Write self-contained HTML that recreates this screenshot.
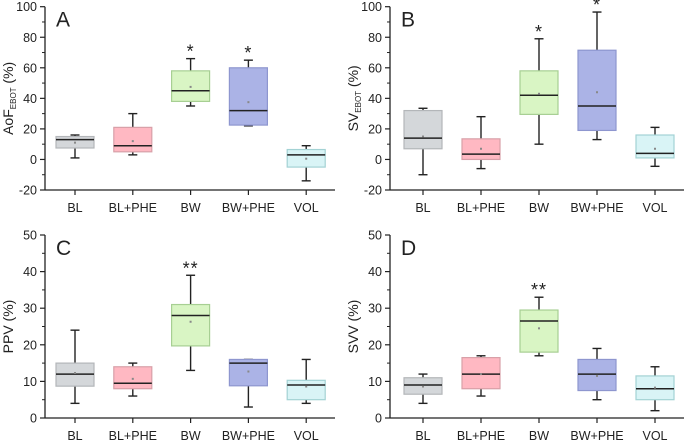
<!DOCTYPE html>
<html><head><meta charset="utf-8"><style>
body{margin:0;background:#fff}
svg text{font-family:"Liberation Sans",Arial,sans-serif;fill:#222}
</style></head><body>
<svg id="c" width="685" height="440" xmlns="http://www.w3.org/2000/svg"></svg>
<script>
const categories=["BL","BL+PHE","BW","BW+PHE","VOL"];
const fills=["#d4d7da","#ffb8c2","#d9f5c4","#abb3e6","#d9f4f6"];
const strokes=["#b3b6b9","#d8a0a8","#a7cf93","#8e96cf","#a3d2d4"];
// [whiskerLow, q1, median, q3, whiskerHigh, mean]
const statsA=[[1,7.5,13,15,16,11],[3,5,9,21,30,12],[35,38,45,58,66,47.5],[22,22.5,32,60,65,37.5],[-14,-5,3,6.5,9,0.5]];
const statsB=[[-10,7,14,32,33.5,15],[-6,0,3.5,13.5,28,7],[10,29.5,42,58,79,43],[13,19,35,71.5,96.5,44],[-4.5,1,4,16,21,7]];
const statsC=[[4,8.7,12,15,24,12.3],[6,8,9.5,14,15,10.7],[13,19.7,28,31,39,26.3],[3,8.8,15,16,16,12.7],[4,5,9,10.3,16,8.6]];
const statsD=[[4,6.5,9,11,12,8.6],[6,8,12,16.5,17,12],[17,18,26.5,29.5,33,24.5],[5,7.5,12,16,19,11.5],[2,5,8,11.5,14,8.3]];
const starsA=["","","*","*",""],starsB=["","","*","*",""],starsC=["","","**","",""],starsD=["","","**","",""];
const ticksAB=[-20,0,20,40,60,80,100],ticksCD=[0,10,20,30,40,50];

const svg=document.getElementById('c');
const NS="http://www.w3.org/2000/svg";
function mk(tag,attrs,parent,txt){const e=document.createElementNS(NS,tag);for(const k in attrs)e.setAttribute(k,attrs[k]);if(txt!==undefined)e.textContent=txt;(parent||svg).appendChild(e);return e;}

function panel(p){
  const g=mk('g',{});
  
  
  const ymin=p.ticks[0],ymax=p.ticks[p.ticks.length-1];
  const y=v=>p.yBot-(v-ymin)/(ymax-ymin)*(p.yBot-p.yTop);
  const x=i=>p.x0+p.dx*i;
  const ya=mk('line',{x1:p.ax,y1:p.yTop,x2:p.ax,y2:p.yBot,stroke:'#222','stroke-width':1.3},g);
  
  const xa=mk('line',{x1:p.ax,y1:p.yBot,x2:p.xEnd,y2:p.yBot,stroke:'#222','stroke-width':1.3},g);
  
  p.ticks.forEach((t,k)=>{
    mk('line',{x1:p.ax-5,y1:y(t),x2:p.ax,y2:y(t),stroke:'#222','stroke-width':1.2},g);
    if(k<p.ticks.length-1){const m=(t+p.ticks[k+1])/2;mk('line',{x1:p.ax-3,y1:y(m),x2:p.ax,y2:y(m),stroke:'#222','stroke-width':1},g);}
    const tl=mk('text',{x:p.ax-8,y:y(t)+4.5,'text-anchor':'end','font-size':12.5},g,String(t));
    
  });
  const tt=mk('text',{transform:`translate(${p.ax-32},${(p.yTop+p.yBot)/2}) rotate(-90)`,'text-anchor':'middle','font-size':14},g);
  
  tt.textContent=p.title;
  if(p.sub){mk('tspan',{'font-size':8,dy:3},tt,p.sub);mk('tspan',{dy:-3},tt,' (%)');}
  const lt=mk('text',{x:p.ax+11,y:p.yTop+20,'font-size':21},g,p.letter);
  
  categories.forEach((c,i)=>{
    const cx=x(i),s=p.stats[i],w=19;
    mk('line',{x1:cx,y1:p.yBot,x2:cx,y2:p.yBot+5,stroke:'#222','stroke-width':1.2},g);
    const cl=mk('text',{x:cx,y:p.yBot+22,'text-anchor':'middle','font-size':12.5},g,c);
    
    const bg=mk('g',{},g);
    
    
    mk('line',{x1:cx,y1:y(s[0]),x2:cx,y2:y(s[4]),stroke:'#222','stroke-width':1.4},bg);
    mk('line',{x1:cx-4.5,y1:y(s[0]),x2:cx+4.5,y2:y(s[0]),stroke:'#222','stroke-width':1.4},bg);
    mk('line',{x1:cx-4.5,y1:y(s[4]),x2:cx+4.5,y2:y(s[4]),stroke:'#222','stroke-width':1.4},bg);
    mk('rect',{x:cx-w,y:y(s[3]),width:2*w,height:y(s[1])-y(s[3]),fill:fills[i],stroke:strokes[i],'stroke-width':1.2},bg);
    mk('line',{x1:cx-w,y1:y(s[2]),x2:cx+w,y2:y(s[2]),stroke:'#222','stroke-width':1.5},bg);
    mk('rect',{x:cx-1,y:y(s[5])-1,width:2,height:2,fill:'#888'},bg);
    if(p.stars[i]){const st=mk('text',{x:cx,y:y(s[4])-1,'text-anchor':'middle','font-size':18,'letter-spacing':1},g,p.stars[i]);
      }
  });
}
panel({letter:'A',title:'AoF',sub:'EBOT',stats:statsA,stars:starsA,ticks:ticksAB,ax:45,xEnd:335,yTop:6.7,yBot:190,x0:75,dx:57.8});
panel({letter:'B',title:'SV',sub:'EBOT',stats:statsB,stars:starsB,ticks:ticksAB,ax:390,xEnd:684,yTop:6.7,yBot:190,x0:423,dx:58});
panel({letter:'C',title:'PPV (%)',stats:statsC,stars:starsC,ticks:ticksCD,ax:45,xEnd:335,yTop:235,yBot:418,x0:75,dx:57.8});
panel({letter:'D',title:'SVV (%)',stats:statsD,stars:starsD,ticks:ticksCD,ax:390,xEnd:684,yTop:235,yBot:418,x0:423,dx:58});
</script>
</body></html>
